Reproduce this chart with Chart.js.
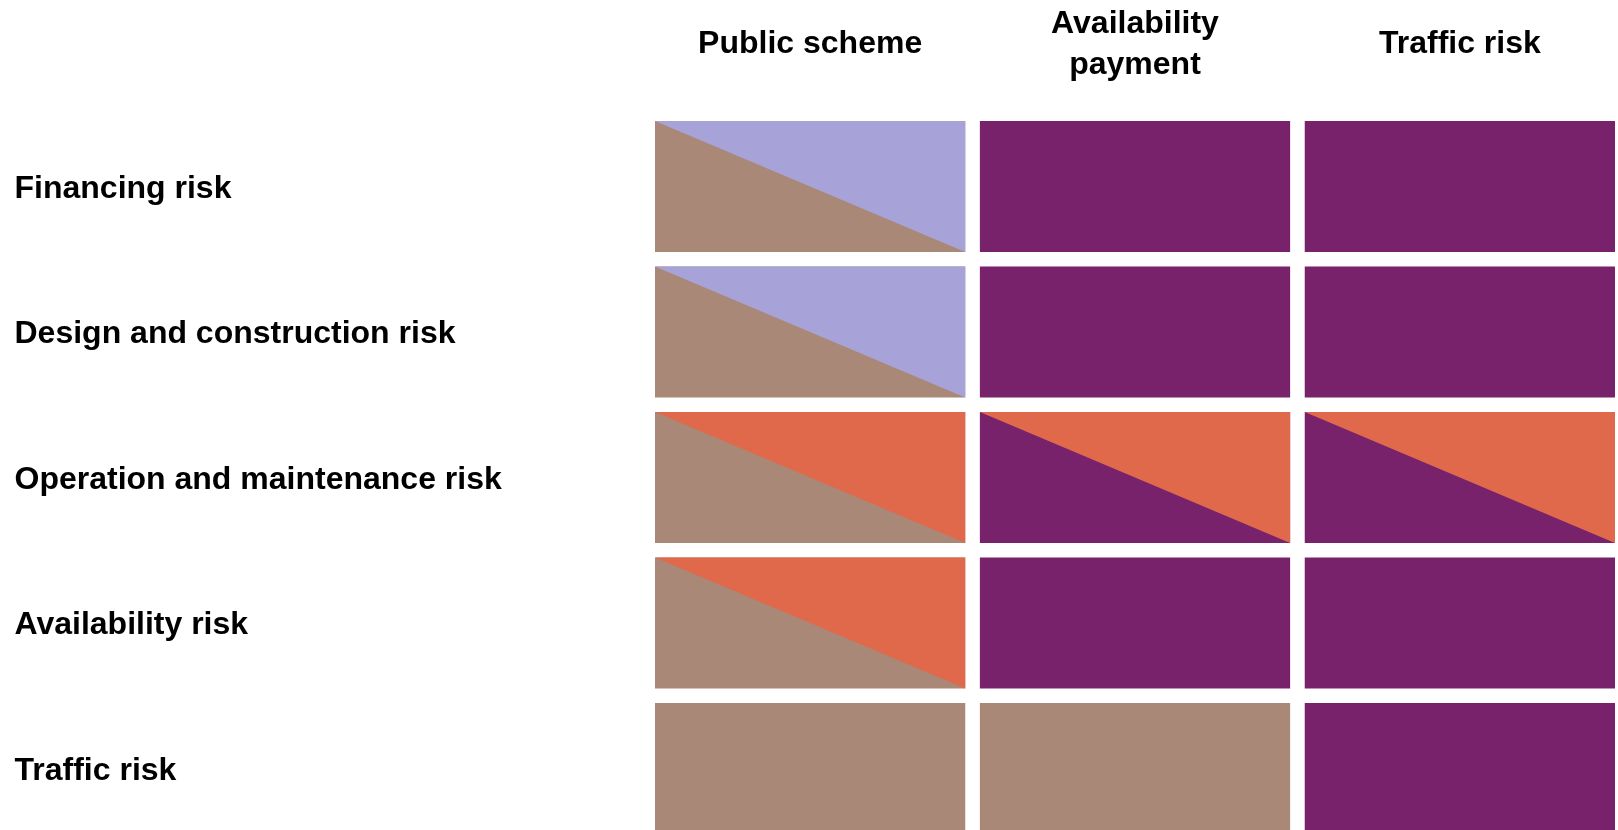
<!DOCTYPE html>
<html>
<head>
<meta charset="utf-8">
<title>Risk allocation</title>
<script src="https://cdn.jsdelivr.net/npm/chart.js@4.4.0/dist/chart.umd.min.js"></script>
<style>
    html, body { margin: 0; padding: 0; background: #fff; }
    canvas { display: block; }
</style>
</head>
<body>
<canvas id="riskChart" width="1618" height="830"></canvas>
<script>
// Matrix rows / columns
const riskLabels = ['Financing risk', 'Design and construction risk', 'Operation and maintenance risk', 'Availability risk', 'Traffic risk'];
const schemeLabels = ['Public scheme', ['Availability', 'payment'], 'Traffic risk'];

// Cell fill per scheme, one entry per risk row.
// 'a/b' means a diagonal split: a in the lower-left half, b in the upper-right half
const publicScheme = ['brown/lavender', 'brown/lavender', 'brown/orange', 'brown/orange', 'brown'];
const availabilityPayment = ['purple', 'purple', 'purple/orange', 'purple', 'brown'];
const trafficScheme = ['purple', 'purple', 'purple/orange', 'purple', 'purple'];

const schemeCells = [publicScheme, availabilityPayment, trafficScheme];

const palette = {
    brown: '#aa8878',
    lavender: '#a7a3d8',
    orange: '#e0684b',
    purple: '#77226b'
};

// cell size in axis units (1 unit = one column / one row)
const CELL_W = 0.955;
const CELL_H = 0.9;

function polygon(points, colour, order) {
    return {
        data: points.map(p => ({ x: p[0], y: p[1] })),
        backgroundColor: colour,
        borderColor: 'transparent',
        borderWidth: 0,
        pointRadius: 0,
        fill: 'shape',
        tension: 0,
        order: order
    };
}

// Build one filled shape per cell (plus a triangle on top for split cells)
function buildDatasets() {
    const datasets = [];
    schemeCells.forEach((cells, c) => {
        cells.forEach((cell, r) => {
            const parts = cell.split('/');
            const x0 = c, x1 = c + CELL_W;
            const y0 = r, y1 = r + CELL_H;
            datasets.push(polygon([[x0, y0], [x1, y0], [x1, y1], [x0, y1]], palette[parts[0]], 1));
            if (parts.length > 1) {
                datasets.push(polygon([[x0, y0], [x1, y0], [x1, y1]], palette[parts[1]], 0));
            }
        });
    });
    return datasets;
}

// Row and column labels, placed with the chart scales
const matrixLabels = {
    id: 'matrixLabels',
    afterDraw(chart) {
        const { ctx, scales: { x, y } } = chart;
        ctx.save();
        ctx.fillStyle = '#000';
        ctx.font = 'bold 32px "Liberation Sans", Arial, sans-serif';
        ctx.textBaseline = 'alphabetic';

        ctx.textAlign = 'left';
        riskLabels.forEach((label, r) => {
            const yc = y.getPixelForValue(r + CELL_H / 2);
            ctx.fillText(label, 14.5, yc + 11.5);
        });

        ctx.textAlign = 'center';
        schemeLabels.forEach((label, c) => {
            const lines = [].concat(label);
            const xc = x.getPixelForValue(c + CELL_W / 2);
            const first = lines.length > 1 ? 32.5 : 52.5;
            lines.forEach((line, i) => {
                ctx.fillText(line, xc, first + i * 41);
            });
        });
        ctx.restore();
    }
};

const ctx = document.getElementById('riskChart');
new Chart(ctx, {
    type: 'line',
    data: { datasets: buildDatasets() },
    options: {
        responsive: false,
        animation: false,
        events: [],
        layout: {
            padding: { left: 655, right: 3, top: 121, bottom: 0 }
        },
        plugins: {
            legend: { display: false },
            tooltip: { enabled: false }
        },
        scales: {
            x: { type: 'linear', min: 0, max: 2 + CELL_W, display: false },
            y: { type: 'linear', min: 0, max: 4.873, reverse: true, display: false }
        }
    },
    plugins: [matrixLabels]
});
</script>
</body>
</html>
